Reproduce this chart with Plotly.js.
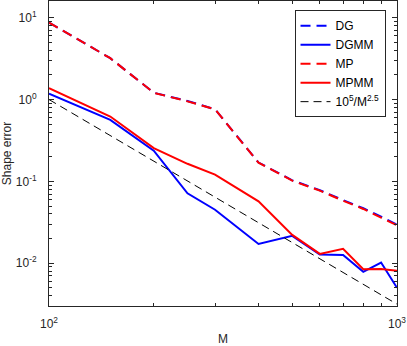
<!DOCTYPE html>
<html>
<head>
<meta charset="utf-8">
<script src="https://cdn.plot.ly/plotly-3.0.1.min.js"></script>
<style>html,body{margin:0;padding:0;background:#fff}#chart{width:407px;height:346px}</style>
</head>
<body>
<div id="chart"></div>
<script>
const M = [100, 150, 200, 250, 300, 400, 500, 600, 700, 800, 900, 1000];
const DG = [8.7, 3.2, 1.21, 0.96, 0.76, 0.17, 0.103, 0.078, 0.059, 0.047, 0.037, 0.0295];
const DGMM = [1.18, 0.565, 0.237, 0.0714, 0.045, 0.0172, 0.0216, 0.0128, 0.0126, 0.00785, 0.0102, 0.005];
const MP = [8.7, 3.2, 1.21, 0.95, 0.76, 0.169, 0.102, 0.077, 0.058, 0.046, 0.036, 0.029];
const MPMM = [1.38, 0.62, 0.255, 0.164, 0.121, 0.057, 0.0222, 0.013, 0.015, 0.00845, 0.0085, 0.0081];
const REF = [1, 0.363, 0.177, 0.101, 0.0642, 0.0313, 0.0179, 0.0113, 0.00771, 0.00552, 0.00412, 0.00316];
const names = ['DG', 'DGMM', 'MP', 'MPMM', '10<sup>5</sup>/M<sup>2.5</sup>'];
const xTickVals = [100, 1000];
const xTickText = ['10<sup>2</sup>', '10<sup>3</sup>'];
const yTickVals = [0.01, 0.1, 1, 10];
const yTickText = ['10<sup>-2</sup>', '10<sup>-1</sup>', '10<sup>0</sup>', '10<sup>1</sup>'];
const xMinor = [200, 300, 400, 500, 600, 700, 800, 900];
const yMinor = [];
[0.001, 0.01, 0.1, 1, 10].forEach(d => { for (let k = 2; k <= 9; k++) yMinor.push(d * k); });

const ax = '#262626';
const traces = [
  {x: M, y: DG, name: names[0], line: {color: '#0000ff', width: 2, dash: '10px,6px'}},
  {x: M, y: DGMM, name: names[1], line: {color: '#0000ff', width: 2}},
  {x: M, y: MP, name: names[2], line: {color: '#ff0000', width: 2, dash: '10px,6px'}},
  {x: M, y: MPMM, name: names[3], line: {color: '#ff0000', width: 2}},
  {x: M, y: REF, name: names[4], line: {color: '#000000', width: 1, dash: '8px,5px'}}
].map(t => Object.assign({type: 'scatter', mode: 'lines'}, t));

const font = {family: 'Liberation Sans, Arial, sans-serif', size: 12, color: ax};
const layout = {
  width: 407, height: 346,
  margin: {l: 49, r: 10, t: 1, b: 40},
  paper_bgcolor: '#fff', plot_bgcolor: '#fff',
  font: font,
  showlegend: true,
  legend: {
    x: 0.967, xanchor: 'right', y: 0.97, yanchor: 'top',
    bordercolor: ax, borderwidth: 1, bgcolor: '#fff',
    font: {family: font.family, size: 12, color: '#000'},
    tracegroupgap: 0
  },
  xaxis: {
    type: 'log', range: [2, 3],
    tickmode: 'array', tickvals: xTickVals, ticktext: xTickText,
    ticks: 'inside', ticklen: 5, tickcolor: ax, tickwidth: 1,
    minor: {tickmode: 'array', tickvals: xMinor, ticks: 'inside', ticklen: 3, tickcolor: ax, showgrid: false},
    showline: true, linecolor: ax, linewidth: 1, mirror: 'ticks',
    showgrid: false, zeroline: false,
    ticklabelstandoff: 7,
    title: {text: 'M', font: {size: 12, color: ax}, standoff: 10}
  },
  yaxis: {
    type: 'log', range: [Math.log10(0.003), Math.log10(16)],
    tickmode: 'array', tickvals: yTickVals, ticktext: yTickText,
    ticks: 'inside', ticklen: 5, tickcolor: ax, tickwidth: 1,
    minor: {tickmode: 'array', tickvals: yMinor, ticks: 'inside', ticklen: 3, tickcolor: ax, showgrid: false},
    showline: true, linecolor: ax, linewidth: 1, mirror: 'ticks',
    showgrid: false, zeroline: false,
    ticklabelstandoff: 9,
    title: {text: 'Shape error', font: {size: 12, color: ax}, standoff: 4}
  }
};
Plotly.newPlot('chart', traces, layout, {displayModeBar: false, staticPlot: true});
</script>
</body>
</html>
